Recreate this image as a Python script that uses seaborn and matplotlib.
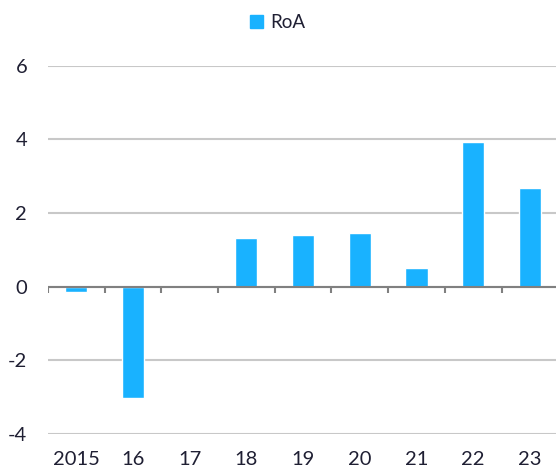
import matplotlib
matplotlib.use("Agg")
import matplotlib.pyplot as plt
import matplotlib.patches as mpatches
import seaborn as sns
import pandas as pd

# Datos
anios = ["2015", "16", "17", "18", "19", "20", "21", "22", "23"]
roa = [-0.15, -3.03, 0.0, 1.32, 1.41, 1.45, 0.5, 3.92, 2.67]

datos = pd.DataFrame({"anio": anios, "roa": roa})

azul = "#19B2FF"
texto = "#1F1F33"

sns.set_theme(style="white")
plt.rcParams["font.family"] = ["Lato", "DejaVu Sans"]
plt.rcParams["axes.unicode_minus"] = False

fig = plt.figure(figsize=(5.56, 4.75), dpi=100)
ax = fig.add_axes([0.0863, 0.0863, 0.9137, 0.7757])

sns.barplot(data=datos, x="anio", y="roa", color=azul, width=0.39,
            saturation=1, ax=ax, zorder=3)

ax.set_ylim(-4, 6)
ax.set_xlim(-0.5, 8.46)
ax.set_yticks([-4, -2, 0, 2, 4, 6])
ax.yaxis.grid(True, color="#C8C8C8", linewidth=1.5)
ax.set_axisbelow(True)
for s in ax.spines.values():
    s.set_visible(False)

# Linea del cero con marcas entre categorias
ax.axhline(0, color="#808080", linewidth=1.5, zorder=4)
ax.vlines([i - 0.5 for i in range(len(anios))], -0.17, 0,
          color="#808080", linewidth=1.5, zorder=4)

ax.set_xlabel("")
ax.set_ylabel("")
ax.tick_params(axis="both", length=0, labelsize=14.5, colors=texto)
ax.tick_params(axis="x", pad=12)
ax.tick_params(axis="y", pad=15)

parche = mpatches.Patch(color=azul, label="RoA")
fig.legend(handles=[parche], loc="center", bbox_to_anchor=(0.5, 0.952),
           frameon=False, fontsize=13.5, handlelength=0.7, handleheight=0.7,
           handletextpad=0.4, labelcolor=texto)

fig.savefig("out.png", dpi=100)
